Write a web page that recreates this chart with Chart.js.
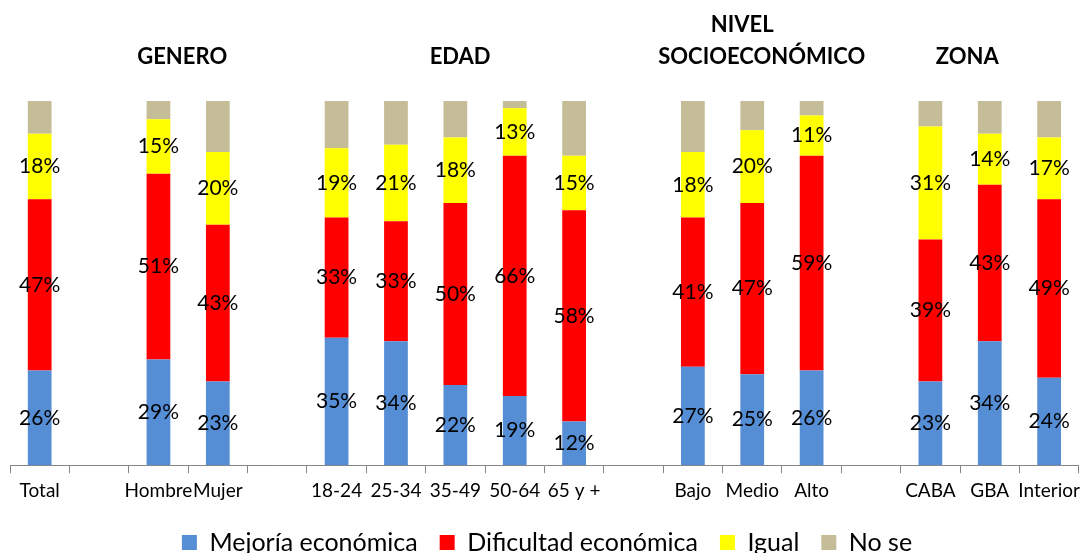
<!DOCTYPE html>
<html>
<head>
<meta charset="utf-8">
<script src="https://cdn.jsdelivr.net/npm/chart.js@4/dist/chart.umd.min.js"></script>
<style>
  html, body { margin: 0; padding: 0; background: #fff; }
  #wrap { width: 1086px; height: 553px; }
</style>
</head>
<body>
<div id="wrap"><canvas id="chartEconomia"></canvas></div>
<script>
const categories = ['Total', '', 'Hombre', 'Mujer', '', '18-24', '25-34', '35-49', '50-64', '65 y +', '', 'Bajo', 'Medio', 'Alto', '', 'CABA', 'GBA', 'Interior'];
const mejoria    = [26, null, 29, 23, null, 35, 34, 22, 19, 12, null, 27, 25, 26, null, 23, 34, 24];
const dificultad = [47, null, 51, 43, null, 33, 33, 50, 66, 58, null, 41, 47, 59, null, 39, 43, 49];
const igual      = [18, null, 15, 20, null, 19, 21, 18, 13, 15, null, 18, 20, 11, null, 31, 14, 17];
const noSe       = [9, null, 5, 14, null, 13, 12, 10, 2, 15, null, 14, 8, 4, null, 7, 9, 10];
// group headers over the x axis (text, category position, row)
const headerTexts   = ['GENERO', 'EDAD', 'NIVEL', 'SOCIOECONÓMICO', 'ZONA'];
const headerCenters = [2.4, 7.08, 11.83, 12.16, 15.62];
const headerRows    = [1, 1, 0, 1, 1];

const FONT = 'Lato, "Open Sans", sans-serif';

const valueLabels = {
    id: 'valueLabels',
    afterDatasetsDraw(chart) {
        const ctx = chart.ctx;
        ctx.save();
        ctx.font = '21px ' + FONT;
        ctx.fillStyle = '#000';
        ctx.textAlign = 'center';
        ctx.textBaseline = 'middle';
        chart.data.datasets.forEach((ds, di) => {
            if (di > 2) return;
            const meta = chart.getDatasetMeta(di);
            meta.data.forEach((bar, i) => {
                const v = ds.data[i];
                if (v === null) return;
                ctx.fillText(v + '%', bar.x, (bar.y + bar.base) / 2);
            });
        });
        ctx.restore();
    }
};

const groupTitles = {
    id: 'groupTitles',
    afterDraw(chart) {
        const ctx = chart.ctx;
        const xs = chart.scales.x;
        ctx.save();
        ctx.font = 'bold 22px ' + FONT;
        ctx.fillStyle = '#000';
        ctx.textAlign = 'center';
        ctx.textBaseline = 'middle';
        headerTexts.forEach((t, k) => {
            const x = xs.getPixelForValue(headerCenters[k]);
            const y = headerRows[k] === 0 ? 25 : 57;
            ctx.fillText(t, x, y);
        });
        ctx.restore();
    }
};

const data = {
    labels: categories,
    datasets: [
        { label: 'Mejoría económica', data: mejoria, backgroundColor: '#558ED5' },
        { label: 'Dificultad económica', data: dificultad, backgroundColor: '#FF0000' },
        { label: 'Igual', data: igual, backgroundColor: '#FFFF00' },
        { label: 'No se', data: noSe, backgroundColor: '#C4BD97' }
    ]
};

const config = {
    type: 'bar',
    data: data,
    options: {
        responsive: true,
        maintainAspectRatio: false,
        animation: false,
        datasets: {
            bar: {
                barPercentage: 0.4,
                categoryPercentage: 1.0,
                borderWidth: 0
            }
        },
        layout: {
            padding: { top: 101, left: 10, right: 2, bottom: -12 }
        },
        scales: {
            x: {
                stacked: true,
                grid: {
                    display: true,
                    drawOnChartArea: false,
                    offset: true,
                    tickLength: 8,
                    color: '#868686'
                },
                border: { display: true, color: '#868686', width: 1 },
                ticks: {
                    color: '#000',
                    font: { family: FONT, size: 19 },
                    maxRotation: 0,
                    autoSkip: false,
                    padding: 6
                }
            },
            y: {
                stacked: true,
                display: false,
                min: 0,
                max: 100
            }
        },
        plugins: {
            legend: {
                position: 'bottom',
                labels: {
                    color: '#000',
                    font: { family: FONT, size: 25 },
                    boxWidth: 15,
                    boxHeight: 15,
                    padding: 22
                }
            },
            tooltip: { enabled: false },
            title: { display: false }
        }
    },
    plugins: [valueLabels, groupTitles]
};

const ctx = document.getElementById('chartEconomia');
new Chart(ctx, config);
</script>
</body>
</html>
